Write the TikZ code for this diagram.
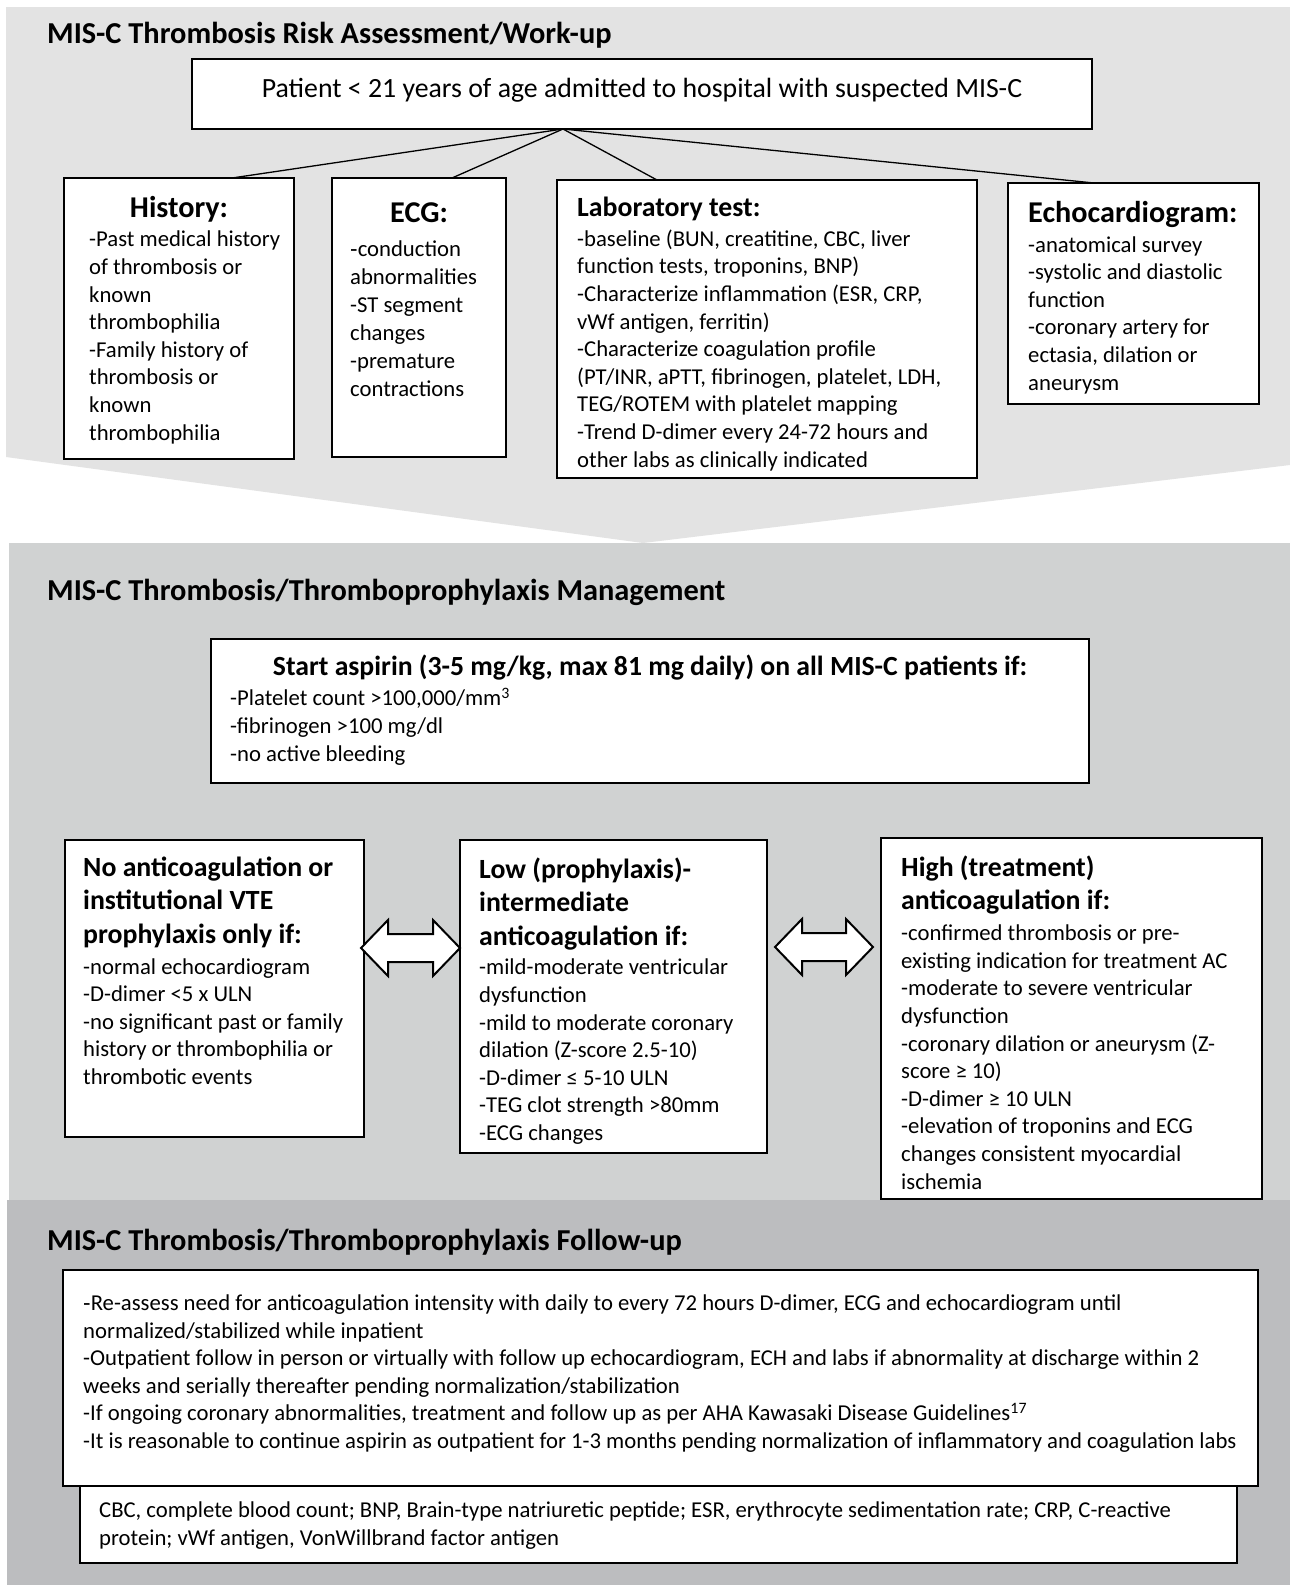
\documentclass[tikz,border=0pt]{standalone}
\usepackage{fontspec}
\setmainfont{Carlito}
\newfontfamily\dashfont{Liberation Sans}
\usetikzlibrary{fit}
\definecolor{gtop}{HTML}{E3E3E3}
\definecolor{gmid}{HTML}{D0D2D2}
\definecolor{gbot}{HTML}{BCBDBF}
\tikzset{
  box/.style={draw=black, line width=2pt, fill=white, inner sep=0pt, outer sep=0pt},
  conn/.style={draw=black, line width=1.3pt},
  body/.style={anchor=base west, inner sep=0pt, align=left, font=\fontsize{22.7}{27.6}\selectfont},
  sectitle/.style={anchor=base west, inner sep=0pt, font=\bfseries\fontsize{30.4}{36}\selectfont},
  bighead/.style={anchor=base, inner sep=0pt, font=\bfseries\fontsize{30.2}{36}\selectfont},
  labhead/.style={anchor=base west, inner sep=0pt, font=\bfseries\fontsize{27.8}{33.5}\selectfont},
  midhead/.style={anchor=base west, inner sep=0pt, align=left, font=\bfseries\fontsize{27.8}{33.5}\selectfont},
  asphead/.style={anchor=base, inner sep=0pt, font=\bfseries\fontsize{27.7}{33}\selectfont},
  pattext/.style={anchor=base, inner sep=0pt, font=\fontsize{27.8}{33}\selectfont},
  dblarrow/.style={draw=black, line width=2pt, fill=white, line join=miter},
}
\begin{document}
\begin{tikzpicture}[x=1pt,y=-1pt]
\useasboundingbox (0,0) rectangle (1290,1585);
\fill[white] (0,0) rectangle (1290,1585);
% section backgrounds
\fill[gbot] (7,1200) rectangle (1290,1585);
\fill[gmid] (9,543) rectangle (1290,1200);
\fill[gtop] (6,7) -- (1290,7) -- (1290,465) -- (643,543) -- (6,457) -- cycle;

% ---------- section 1 ----------
\node[sectitle] (t1) at (47,43) {MIS-C Thrombosis Risk Assessment/Work-up};
\node[box, fit={(192,59) (1092,129)}] (pat) {};
\node[pattext] (pattx) at (642,97) {Patient < 21 years of age admitted to hospital with suspected MIS-C};

\node[box, fit={(64,178) (294,459)}] (his) {};
\node[box, fit={(332,178) (506,457)}] (ecg) {};
\node[box, fit={(557,180) (977,478)}] (lab) {};
\node[box, fit={(1008,183) (1259,404)}] (echo) {};

\coordinate (patout) at (563,129);
\coordinate (hisin) at (232,178);
\coordinate (ecgin) at (452,178);
\coordinate (labin) at (657,180);
\coordinate (echoin) at (1094,183);
\draw[conn] (patout) -- (hisin);
\draw[conn] (patout) -- (ecgin);
\draw[conn] (patout) -- (labin);
\draw[conn] (patout) -- (echoin);

\node[bighead] (hish) at (179,217) {History:};
\node[body] (hisb) at (89,440) {-Past medical history\\of thrombosis or\\known\\thrombophilia\\-Family history of\\thrombosis or\\known\\thrombophilia};

\node[bighead] (ecgh) at (419,222) {ECG:};
\node[body, font=\fontsize{22.7}{27.9}\selectfont] (ecgb) at (350,396) {{\dashfont -}conduction\\abnormalities\\-ST segment\\changes\\-premature\\contractions};

\node[labhead] (labh) at (577,216) {Laboratory test:};
\node[body] (labb) at (577,467) {-baseline (BUN, creatitine, CBC, liver\\function tests, troponins, BNP)\\-Characterize inflammation (ESR, CRP,\\vWf antigen, ferritin)\\-Characterize coagulation profile\\(PT/INR, aPTT, fibrinogen, platelet, LDH,\\TEG/ROTEM with platelet mapping\\-Trend D-dimer every 24-72 hours and\\other labs as clinically indicated};

\node[bighead, anchor=base west] (echoh) at (1028,222) {Echocardiogram:};
\node[body] (echob) at (1028,390) {-anatomical survey\\-systolic and diastolic\\function\\-coronary artery for\\ectasia, dilation or\\aneurysm};

% ---------- section 2 ----------
\node[sectitle] (t2) at (47,600) {MIS-C Thrombosis/Thromboprophylaxis Management};
\node[box, fit={(211,639) (1089,783)}] (asp) {};
\node[asphead] (asph) at (650,675) {Start aspirin (3-5 mg/kg, max 81 mg daily) on all MIS-C patients if:};
\node[body] (aspb) at (230,761) {-Platelet count >100,000/mm\textsuperscript{3}\\-fibrinogen >100 mg/dl\\-no active bleeding};

\node[box, fit={(65,840) (364,1137)}] (noac) {};
\node[box, fit={(460,840) (767,1153)}] (lowac) {};
\node[box, fit={(881,838) (1262,1199)}] (highac) {};

\node[midhead] (noach) at (83,943) {No anticoagulation or\\institutional VTE\\prophylaxis only if:};
\node[body] (noacb) at (83,1084.5) {-normal echocardiogram\\-D-dimer <5 x ULN\\-no significant past or family\\history or thrombophilia or\\thrombotic events};

\node[midhead] (lowach) at (479,945) {Low (prophylaxis)-\\intermediate\\anticoagulation if:};
\node[body] (lowacb) at (479,1140.5) {-mild-moderate ventricular\\dysfunction\\-mild to moderate coronary\\dilation (Z-score 2.5-10)\\-D-dimer ≤ 5-10 ULN\\-TEG clot strength >80mm\\-ECG changes};

\node[midhead] (highach) at (901,909.5) {High (treatment)\\anticoagulation if:};
\node[body] (highacb) at (901,1189) {-confirmed thrombosis or pre-\\existing indication for treatment AC\\-moderate to severe ventricular\\dysfunction\\-coronary dilation or aneurysm (Z-\\score ≥ 10)\\-D-dimer ≥ 10 ULN\\-elevation of troponins and ECG\\changes consistent myocardial\\ischemia};

\draw[dblarrow] (361,948) -- (388,920) -- (388,934) -- (433,934) -- (433,920) -- (460,948) -- (433,976) -- (433,962) -- (388,962) -- (388,976) -- cycle;
\draw[dblarrow] (775,947) -- (802,919) -- (802,933) -- (846,933) -- (846,919) -- (873,947) -- (846,975) -- (846,961) -- (802,961) -- (802,975) -- cycle;

% ---------- section 3 ----------
\node[sectitle] (t3) at (47,1250) {MIS-C Thrombosis/Thromboprophylaxis Follow-up};
\node[box, fit={(63,1270) (1258,1486)}] (fu) {};
\node[body] (fub) at (83,1448.5) {{\dashfont -}Re-assess need for anticoagulation intensity with daily to every 72 hours D-dimer, ECG and echocardiogram until\\normalized/stabilized while inpatient\\-Outpatient follow in person or virtually with follow up echocardiogram, ECH and labs if abnormality at discharge within 2\\weeks and serially thereafter pending normalization/stabilization\\-If ongoing coronary abnormalities, treatment and follow up as per AHA Kawasaki Disease Guidelines\textsuperscript{17}\\-It is reasonable to continue aspirin as outpatient for 1-3 months pending normalization of inflammatory and coagulation labs};
\node[box, fit={(80,1486) (1237,1563)}] (fn) {};
\node[body] (fnb) at (99,1545) {CBC, complete blood count; BNP, Brain-type natriuretic peptide; ESR, erythrocyte sedimentation rate; CRP, C-reactive\\protein; vWf antigen, VonWillbrand factor antigen};
\end{tikzpicture}
\end{document}
